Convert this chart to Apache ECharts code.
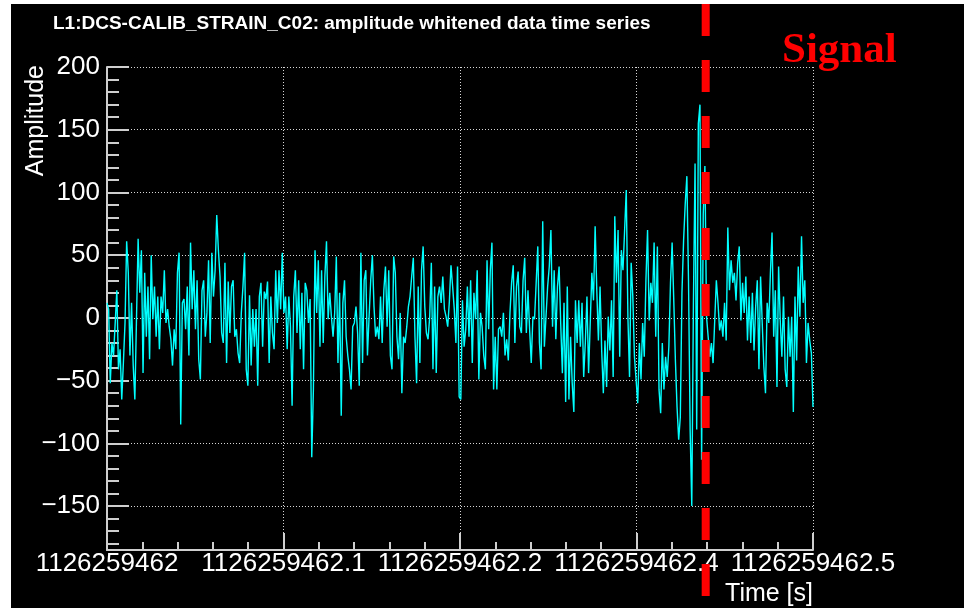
<!DOCTYPE html>
<html>
<head>
<meta charset="utf-8">
<title>L1 whitened strain</title>
<script src="https://cdn.jsdelivr.net/npm/echarts@6/dist/echarts.min.js"></script>
<style>
  html, body { margin: 0; padding: 0; background: #ffffff; width: 964px; height: 608px; overflow: hidden; }
  #chart { position: absolute; left: 11px; top: 4px; width: 953px; height: 604px; background: #000000; }
</style>
</head>
<body>
<div id="chart"></div>
<script>
// GPS second the time axis is measured from
const gpsStart = 1126259462;
// time span shown, in seconds after gpsStart
const timeMin = 0;
const timeMax = 0.5;
// time of the marked event, in seconds after gpsStart
const signalTime = 0.424;

// whitened amplitude samples, six consecutive windows of the 0.5 s stretch
const amp1 = [12,7,-52,-20,-30,-4,22,-41,-25,-65,-36,-4,61,36,-30,12,-38,-65,-1,63,20,54,-44,36,-15,25,-33,50,-1,25,-15,17,-25,17,4,38,-4,7,-7,-17,-38,-9,-25,36,52,-85,12,15,-9,25,-30,60,7,38,-9,30,-33,-49,22,30,-15,4,46,-20,52,17,38,82,54,33,-12,-20];
const amp2 = [44,-36,29,-12,25,30,-15,-9,-28,-36,4,25,52,-41,-54,18,-38,7,-23,7,-54,17,28,-23,21,15,29,-36,17,-12,-25,38,-4,38,7,52,4,17,-25,17,-7,-70,17,38,-12,30,-25,20,-41,28,22,-4,15,-111,-57,54,4,46,-23,38,-20,33,61,-1,20,1,-15,4,49,-36,20,-78];
const amp3 = [12,30,-15,-30,-41,-57,-7,-4,9,-12,-54,52,-36,30,38,-30,1,30,50,9,-15,-7,-17,17,-20,22,41,-7,38,-30,-41,49,36,-15,-33,4,-60,-15,-20,-7,9,17,33,48,-15,-52,25,-36,38,57,9,-12,-17,1,44,-41,25,-44,17,25,12,33,7,1,-7,13,42,25,7,-20,41,-63];
const amp4 = [-65,14,-23,-9,25,-15,30,-36,20,-1,38,-49,4,-7,-30,-41,46,-9,38,60,-57,-15,-57,-9,-7,-15,4,-30,-17,-34,4,28,42,-20,25,37,-7,-12,30,48,-12,22,-9,-36,1,-1,28,57,-20,-41,77,-23,1,25,41,70,-7,38,-17,25,41,-5,-44,12,-67,25,-65,-15,-52,-75,14,-20];
const amp5 = [14,-23,12,-47,-20,17,-44,-4,36,14,73,22,-18,25,-26,-60,-18,-55,1,-26,14,-47,81,28,70,-31,54,38,70,102,1,-47,44,17,-31,-49,-68,-20,-49,-4,-31,30,70,-2,28,12,60,-15,57,-57,-76,-20,-57,-31,-47,-23,28,60,14,-34,-71,-97,-79,20,62,91,113,30,-89,-150,12,123];
const amp6 = [-89,155,170,-113,83,121,1,-15,-31,-20,-36,-2,30,12,-10,-2,-15,12,-18,72,22,46,28,36,14,44,57,-2,28,4,33,-18,17,-20,20,-26,9,30,-41,33,-4,-39,-60,12,-4,36,68,-15,22,-55,41,-2,-31,17,-41,-55,1,-31,1,-75,17,-34,41,1,65,12,30,-36,-4,-18,-28,-71];

// tick labels along the time axis (one per major tick)
const timeTickLabels = ['1126259462', '1126259462.1', '1126259462.2', '1126259462.4', '1126259462.5'];
const timeTickStep = 0.125;
// amplitude axis range and ticks
const ampMin = -185;
const ampMax = 200;
const ampMajorTicks = [-150, -100, -50, 0, 50, 100, 150, 200];
const ampMinorTicks = [-180, -170, -160, -140, -130, -120, -110, -90, -80, -70, -60, -40, -30, -20, -10,
                       10, 20, 30, 40, 60, 70, 80, 90, 110, 120, 130, 140, 160, 170, 180, 190];

const amplitude = [].concat(amp1, amp2, amp3, amp4, amp5, amp6);
const nSamples = amplitude.length;
const seriesData = amplitude.map((v, i) => [timeMin + (timeMax - timeMin) * i / (nSamples - 1), v]);

const SANS = '"Liberation Sans", Arial, Helvetica, sans-serif';
const SERIF = '"Liberation Serif", "Times New Roman", serif';
const AXIS_GREY = '#cfcfcf';

const gridLine = { show: true, lineStyle: { color: '#d6d6d6', width: 1, type: [1, 2] } };
const minusSign = v => (v < 0 ? '\u2212' + Math.abs(v) : String(v));

const chart = echarts.init(document.getElementById('chart'));

chart.setOption({
  backgroundColor: '#000000',
  animation: false,
  title: {
    text: 'L1:DCS-CALIB_STRAIN_C02: amplitude whitened data time series',
    left: 42, top: 10, padding: 0,
    textStyle: { color: '#ffffff', fontSize: 19, fontWeight: 'bold', fontFamily: SANS, lineHeight: 19 }
  },
  grid: { left: 96, right: 151, top: 63, bottom: 58 },
  xAxis: {
    type: 'value', min: timeMin, max: timeMax, interval: timeTickStep,
    axisLine: { onZero: false, lineStyle: { color: AXIS_GREY, width: 2 } },
    axisTick: { inside: true, length: 17, lineStyle: { color: AXIS_GREY, width: 2 } },
    minorTick: { show: true, splitNumber: 5, length: 8, lineStyle: { color: AXIS_GREY, width: 2 } },
    minorSplitLine: { show: false },
    axisLabel: {
      color: '#ffffff', fontSize: 26, fontFamily: SANS, margin: 1,
      showMinLabel: true, showMaxLabel: true, hideOverlap: false,
      formatter: v => timeTickLabels[Math.round(v / timeTickStep)] || ''
    },
    splitLine: gridLine
  },
  yAxis: [
    {
      type: 'value', min: ampMin, max: ampMax, splitNumber: 8,
      axisLine: { show: true, onZero: false, lineStyle: { color: AXIS_GREY, width: 2 } },
      axisTick: { show: true, inside: true, length: 22, customValues: ampMajorTicks, lineStyle: { color: AXIS_GREY, width: 2 } },
      axisLabel: { color: '#ffffff', fontSize: 26, fontFamily: SANS, margin: 7, customValues: ampMajorTicks, formatter: minusSign },
      splitLine: gridLine
    },
    {
      type: 'value', min: ampMin, max: ampMax, position: 'left', offset: 0,
      axisLine: { show: false, onZero: false },
      axisTick: { show: true, inside: true, length: 12, customValues: ampMinorTicks, lineStyle: { color: AXIS_GREY, width: 2 } },
      axisLabel: { show: false },
      splitLine: { show: false }
    }
  ],
  series: [{
    type: 'line',
    xAxisIndex: 0, yAxisIndex: 0,
    data: seriesData,
    showSymbol: false, symbol: 'none',
    silent: true,
    lineStyle: { color: '#00ffff', width: 1.4 }
  }]
});

// event marker and axis titles
const signalX = chart.convertToPixel({ xAxisIndex: 0 }, signalTime);
const chartH = chart.getHeight();
chart.setOption({
  graphic: [
    {
      type: 'line', z: 100, silent: true,
      shape: { x1: signalX, y1: 0, x2: signalX, y2: chartH },
      style: { stroke: '#ff0000', lineWidth: 8, lineDash: [32, 24] }
    },
    {
      type: 'text', z: 100, silent: true, x: 771, y: 25,
      style: { text: 'Signal', fill: '#ff0000', font: 'bold 43px ' + SERIF, align: 'left', verticalAlign: 'top' }
    },
    {
      type: 'text', z: 100, silent: true, x: 25, y: 61, rotation: Math.PI / 2,
      style: { text: 'Amplitude', fill: '#ffffff', font: '25px ' + SANS, align: 'right', verticalAlign: 'middle' }
    },
    {
      type: 'text', z: 100, silent: true, x: 802, y: 578,
      style: { text: 'Time [s]', fill: '#ffffff', font: '25px ' + SANS, align: 'right', verticalAlign: 'top' }
    }
  ]
});
</script>
</body>
</html>
